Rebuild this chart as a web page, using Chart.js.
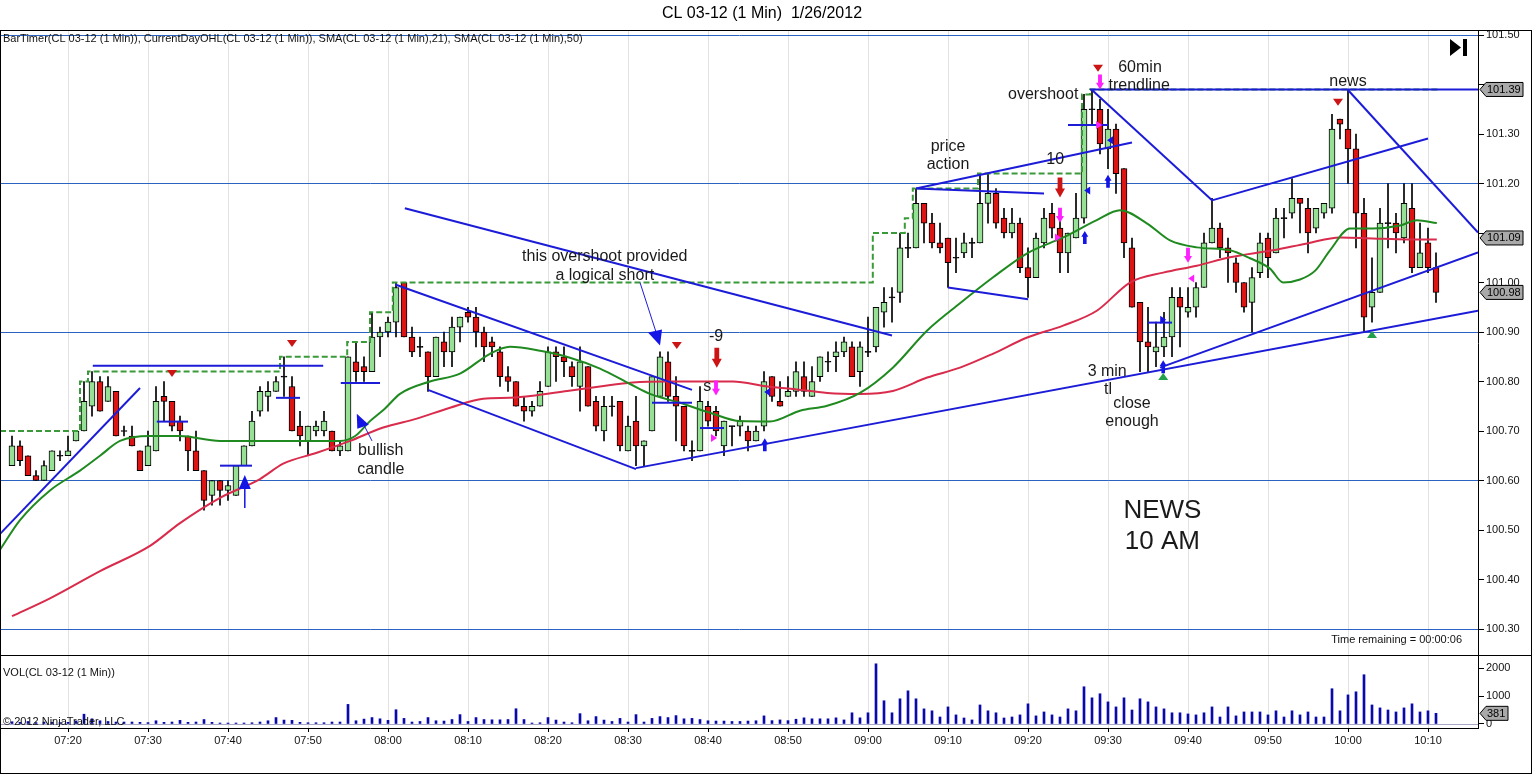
<!DOCTYPE html>
<html>
<head>
<meta charset="utf-8">
<title>CL 03-12 (1 Min) 1/26/2012</title>
<script src="https://cdn.jsdelivr.net/npm/chart.js@4.4.1/dist/chart.umd.min.js"></script>
<style>
  html, body { margin: 0; padding: 0; background: #fff; }
  #wrap { position: relative; width: 1532px; height: 774px; overflow: hidden; background: #fff; }
  #priceChart { position: absolute; left: 0; top: 0; }
  #volChart { position: absolute; left: 0; top: 655px; }
  .frame { position: absolute; left: 0; top: 30px; width: 1532px; height: 744px; border: 1px solid #000; box-sizing: border-box; pointer-events: none; }
  .sep { position: absolute; left: 0; top: 655px; width: 1532px; height: 1px; background: #000; pointer-events: none; }
</style>
</head>
<body>
<div id="wrap">
  <canvas id="priceChart" width="1532" height="655"></canvas>
  <canvas id="volChart" width="1532" height="119"></canvas>
  <div class="frame"></div>
  <div class="sep"></div>
</div>
<script>
// ---- data (1 minute bars from 07:13) ----
const firstBar = '07:13';
const timeLabels = ['07:20', '07:30', '07:40', '07:50', '08:00', '08:10', '08:20', '08:30', '08:40',
  '08:50', '09:00', '09:10', '09:20', '09:30', '09:40', '09:50', '10:00', '10:10'];

const opens = [
  100.63,100.67,100.65,100.61,100.60,100.62,100.65,100.65,100.68,100.70,
  100.75,100.80,100.76,100.78,100.70,100.69,100.66,100.63,100.66,100.77,
  100.76,100.72,100.69,100.66,100.62,100.57,100.60,100.58,100.57,100.63,
  100.67,100.74,100.77,100.78,100.81,100.79,100.71,100.68,100.70,100.70,
  100.70,100.66,100.66,100.84,100.83,100.82,100.89,100.90,100.92,101.00,
  100.89,100.87,100.86,100.81,100.88,100.86,100.91,100.94,100.93,100.90,
  100.88,100.86,100.81,100.80,100.75,100.74,100.75,100.79,100.86,100.85,
  100.83,100.79,100.83,100.76,100.70,100.75,100.76,100.66,100.72,100.67,
  100.70,100.77,100.84,100.77,100.75,100.66,100.66,100.75,100.74,100.67,
  100.71,100.71,100.70,100.68,100.71,100.81,100.76,100.77,100.78,100.81,
  100.77,100.81,100.84,100.85,100.86,100.87,100.82,100.86,100.87,100.94,
  100.97,100.98,101.07,101.07,101.16,101.12,101.08,101.09,101.05,101.06,
  101.08,101.08,101.16,101.18,101.13,101.10,101.12,101.03,101.01,101.08,
  101.14,101.11,101.06,101.09,101.13,101.35,101.35,101.27,101.31,101.23,
  101.07,100.96,100.88,100.86,100.87,100.89,100.97,100.94,100.95,100.99,
  101.08,101.11,101.07,101.04,101.00,100.96,101.02,101.09,101.06,101.13,
  101.14,101.17,101.15,101.11,101.14,101.15,101.33,101.31,101.27,101.14,
  100.95,100.98,101.12,101.12,101.09,101.15,101.03,101.08,101.03
];
const highs = [
  100.69,100.68,100.65,100.62,100.64,100.66,100.66,100.69,100.70,100.80,
  100.82,100.81,100.81,100.78,100.71,100.71,100.66,100.70,100.79,100.80,
  100.76,100.73,100.69,100.70,100.62,100.60,100.60,100.60,100.63,100.67,
  100.74,100.79,100.80,100.81,100.85,100.81,100.74,100.71,100.72,100.74,
  100.70,100.68,100.85,100.88,100.85,100.94,100.91,100.93,101.00,101.00,
  100.91,100.89,100.86,100.89,100.90,100.93,100.93,100.95,100.95,100.91,
  100.89,100.87,100.83,100.80,100.77,100.76,100.80,100.87,100.87,100.87,
  100.84,100.87,100.83,100.77,100.77,100.77,100.76,100.73,100.77,100.68,
  100.81,100.86,100.86,100.81,100.75,100.68,100.79,100.76,100.75,100.72,
  100.71,100.73,100.71,100.71,100.82,100.81,100.80,100.81,100.84,100.84,
  100.83,100.85,100.86,100.88,100.89,100.88,100.88,100.93,100.95,100.99,
  100.99,101.10,101.10,101.19,101.16,101.14,101.12,101.09,101.09,101.10,
  101.09,101.22,101.22,101.19,101.15,101.15,101.13,101.07,101.10,101.15,
  101.16,101.13,101.10,101.18,101.38,101.39,101.37,101.35,101.32,101.23,
  101.09,100.96,100.95,100.92,100.94,100.99,100.99,100.99,101.00,101.10,
  101.17,101.12,101.09,101.05,101.00,101.03,101.10,101.10,101.15,101.15,
  101.21,101.17,101.17,101.15,101.16,101.34,101.33,101.39,101.30,101.17,
  101.05,101.15,101.20,101.14,101.20,101.20,101.12,101.11,101.06
];
const lows = [
  100.63,100.63,100.61,100.60,100.60,100.62,100.64,100.65,100.68,100.70,
  100.73,100.74,100.76,100.69,100.69,100.67,100.62,100.63,100.66,100.72,
  100.70,100.68,100.62,100.62,100.54,100.55,100.55,100.56,100.57,100.63,
  100.67,100.73,100.74,100.78,100.77,100.70,100.67,100.65,100.69,100.69,
  100.66,100.65,100.66,100.80,100.80,100.82,100.85,100.89,100.89,100.89,
  100.85,100.85,100.78,100.81,100.83,100.83,100.88,100.92,100.87,100.84,
  100.85,100.79,100.78,100.75,100.72,100.73,100.75,100.79,100.80,100.81,
  100.79,100.74,100.75,100.70,100.68,100.73,100.66,100.66,100.63,100.63,
  100.70,100.77,100.76,100.68,100.66,100.64,100.66,100.71,100.69,100.65,
  100.67,100.69,100.66,100.68,100.70,100.76,100.75,100.77,100.77,100.77,
  100.77,100.80,100.82,100.82,100.85,100.81,100.79,100.85,100.86,100.91,
  100.92,100.96,101.05,101.07,101.08,101.07,101.06,100.99,101.02,101.05,
  101.05,101.08,101.12,101.11,101.09,101.09,101.02,100.97,101.01,101.07,
  101.09,101.02,101.02,101.09,101.12,101.32,101.26,101.23,101.18,101.05,
  100.95,100.82,100.82,100.83,100.85,100.85,100.87,100.93,100.93,100.99,
  101.08,101.05,101.00,100.98,100.94,100.90,101.01,101.01,101.06,101.09,
  101.13,101.10,101.06,101.10,101.13,101.14,101.29,101.20,101.07,100.90,
  100.92,100.98,101.07,101.06,101.08,101.02,101.03,101.02,100.96
];
const closes = [
  100.67,100.64,100.61,100.60,100.63,100.66,100.65,100.66,100.70,100.76,
  100.80,100.74,100.79,100.69,100.70,100.67,100.62,100.67,100.76,100.76,
  100.71,100.70,100.66,100.62,100.56,100.60,100.58,100.59,100.63,100.67,
  100.72,100.78,100.78,100.80,100.81,100.70,100.69,100.71,100.71,100.72,
  100.66,100.67,100.85,100.82,100.82,100.89,100.90,100.92,100.99,100.89,
  100.86,100.87,100.81,100.89,100.86,100.91,100.93,100.93,100.90,100.87,
  100.87,100.81,100.80,100.75,100.74,100.75,100.78,100.86,100.85,100.84,
  100.81,100.84,100.75,100.71,100.75,100.75,100.67,100.71,100.67,100.68,
  100.81,100.85,100.77,100.75,100.67,100.66,100.76,100.72,100.70,100.72,
  100.71,100.72,100.68,100.70,100.80,100.77,100.75,100.78,100.82,100.78,
  100.80,100.85,100.84,100.86,100.88,100.81,100.87,100.86,100.95,100.96,
  100.97,101.07,101.07,101.16,101.12,101.08,101.07,101.04,101.05,101.08,
  101.08,101.16,101.18,101.12,101.10,101.12,101.03,101.01,101.09,101.13,
  101.11,101.06,101.10,101.13,101.35,101.35,101.28,101.31,101.22,101.08,
  100.95,100.88,100.87,100.87,100.89,100.97,100.95,100.95,100.99,101.08,
  101.11,101.07,101.06,101.00,100.95,101.01,101.08,101.05,101.13,101.13,
  101.17,101.16,101.10,101.15,101.16,101.31,101.32,101.27,101.14,100.93,
  100.98,101.12,101.12,101.10,101.16,101.03,101.06,101.03,100.98
];
const volumes = [
  80,60,90,50,70,60,50,60,110,350,
  185,115,90,70,70,70,60,50,115,60,
  70,130,60,70,160,60,35,35,35,35,
  45,70,115,230,140,130,60,45,45,45,
  70,70,700,115,175,230,185,130,510,200,
  70,90,230,115,105,160,335,90,230,160,
  150,150,160,545,160,35,45,230,140,70,
  45,370,115,265,140,90,200,70,335,70,
  200,265,230,300,185,200,160,115,105,105,
  90,90,105,115,290,120,145,120,170,220,
  185,185,185,220,145,400,220,400,2150,830,
  400,900,1185,900,540,470,250,610,325,215,
  145,680,470,400,215,250,325,720,290,430,
  325,250,540,470,1330,935,1080,790,610,935,
  500,900,790,610,540,400,400,360,325,400,
  610,250,610,290,430,430,430,325,470,250,
  470,325,430,250,250,1260,470,1040,1150,1760,
  680,575,500,430,575,720,430,470,381
];

// SMA(21) and SMA(50) (bar position, price)
const sma21Bars = [-1.5,1,4.75,8.5,11,13.5,17.25,21,26,31,36,41,42.9,44.75,46.6,48.5,52.25,56,59.75,62.25,
  66,69.75,73.5,77.25,79.75,83.5,87.25,91,94.75,98.5,101.9,106,110.1,114.4,118.5,122.6,126.9,131.4,135.6,138.5,
  141.9,144.75,148.1,152.25,154.75,157.25,158.9,161,162.9,164.75,167.25,170.1,173.5,175.6,178.1];
const sma21Values = [100.46,100.52,100.58,100.62,100.65,100.68,100.69,100.69,100.68,100.68,100.68,100.68,100.69,100.72,100.745,100.775,100.80,100.816,100.856,100.87,
  100.862,100.848,100.826,100.795,100.775,100.757,100.737,100.72,100.719,100.741,100.751,100.777,100.828,100.903,100.958,101.01,101.059,101.091,101.126,101.146,
  101.119,101.085,101.071,101.065,101.049,101.028,101.00,101.006,101.024,101.065,101.109,101.109,101.115,101.126,101.12];
const sma50Bars = [0,4.75,11,17.25,21,26,31,33.9,38.1,42.25,46.4,50.6,54.75,58.9,62.25,65.1,69.4,73.5,77.6,81.9,
  90.1,94.4,97.6,101.9,106,110.1,114.4,118.5,122.6,126.9,131.4,135.6,139.75,143.9,148.1,152.25,157.6,161.9,166,170.1,
  174.4,178.1];
const sma50Values = [100.326,100.362,100.417,100.468,100.514,100.565,100.603,100.634,100.656,100.68,100.707,100.725,100.747,100.765,100.767,100.771,100.781,100.79,100.798,100.80,
  100.80,100.79,100.785,100.777,100.775,100.781,100.808,100.828,100.856,100.889,100.913,100.943,101.00,101.02,101.034,101.051,101.065,101.079,101.091,101.089,
  101.087,101.087];

// CurrentDayOHL running high (step line)
const dayHighBars = [-1.5, 8.5, 9.5, 33.5, 41.9, 44.75, 47.6, 107.6, 111.6, 112.6, 120.75, 133.75, 134.75, 178.5];
const dayHighValues = [100.70, 100.80, 100.82, 100.85, 100.88, 100.94, 101.00, 101.10, 101.13, 101.19, 101.22, 101.38, 101.39, 101.39];

const priceTicks = [100.30, 100.40, 100.50, 100.60, 100.70, 100.80, 100.90, 101.00, 101.10, 101.20, 101.30, 101.40, 101.50];
const blueGridPrices = ['100.30', '100.60', '100.90', '101.20', '101.50'];
const volumeTicks = [0, 1000, 2000];
const priceTags = [101.39, 101.09, 100.98];
const lastVolume = 381;

// ---- drawing objects on the price panel (bar position, price) ----
const trendLines = [
  [-1.5, 100.492, 16, 100.787],
  [10.1, 100.832, 38.9, 100.832],
  [18.1, 100.719, 22, 100.719],
  [26, 100.63, 30, 100.63],
  [33, 100.767, 36, 100.767],
  [41.1, 100.797, 46, 100.797],
  [49.1, 101.15, 110, 100.893],
  [47.9, 100.996, 85, 100.783],
  [52, 100.783, 78, 100.623],
  [78, 100.625, 183.25, 100.943],
  [143.5, 100.828, 183.25, 101.061],
  [113, 101.19, 140, 101.283],
  [113, 101.19, 129, 101.18],
  [117, 100.99, 127, 100.966],
  [135, 101.389, 150, 101.166],
  [150, 101.166, 177, 101.291],
  [167, 101.389, 183.25, 101.101],
  [134.75, 101.39, 183.25, 101.39],
  [132, 101.318, 137, 101.318],
  [142, 100.919, 145, 100.919],
  [86, 100.706, 89, 100.706],
  [80, 100.757, 85, 100.757]
];
const pointerLines = [
  [78.5, 101.00, 80.6, 100.895],
  [43.9, 100.715, 45, 100.68]
];
const markers = [
  ['swingHigh', 20, 100.816], ['swingHigh', 35, 100.877], ['swingHigh', 83.1, 100.873],
  ['swingHigh', 135.75, 101.433], ['swingHigh', 165.75, 101.364],
  ['swingLow', 143.9, 100.81], ['swingLow', 170, 100.895],
  ['redDown', 88.1, 100.848], ['redDown', 131, 101.192],
  ['pinkDown', 88, 100.787], ['pinkDown', 131, 101.136], ['pinkDown', 136, 101.405], ['pinkDown', 147, 101.055],
  ['blueUp', 94.1, 100.672], ['blueUp', 143.9, 100.83], ['blueUp', 134.1, 101.091], ['blueUp', 137, 101.2045],
  ['pinkRight', 87.75, 100.686], ['pinkRight', 130.75, 101.091], ['pinkRight', 135.9, 101.318],
  ['pinkLeft', 147.4, 101.008],
  ['blueLeft', 94.4, 100.779], ['blueLeft', 134.4, 101.186], ['blueLeft', 137.25, 101.2875],
  ['blueRight', 143.9, 100.925],
  ['bigTri', 81, 100.8725], ['bullTri', 43.1, 100.735], ['upStem', 29.1, 100.583]
];
const notes = [
  ['this overshoot provided', 74.1, 101.053, 16], ['a logical short', 74.1, 101.014, 16],
  ['-9', 88, 100.891, 16], ['s', 86.9, 100.79, 16],
  ['bullish', 46.1, 100.66, 16], ['candle', 46.1, 100.622, 16],
  ['price', 117, 101.275, 16], ['action', 117, 101.239, 16],
  ['10', 130.4, 101.249, 16], ['overshoot', 128.9, 101.379, 16],
  ['60min', 141, 101.435, 16], ['trendline', 140.9, 101.397, 16],
  ['news', 167, 101.405, 16],
  ['3 min', 136.9, 100.82, 16], ['tl', 137, 100.783, 16],
  ['close', 140, 100.755, 16], ['enough', 140, 100.719, 16],
  ['NEWS', 143.8, 100.538, 26], ['10 AM', 143.8, 100.476, 26]
];

const FONT = '"Liberation Sans", Arial, sans-serif';
const BLUE = '#1c1cd8';
const PINK = '#ff20ff';

function minutes(t) {
  const [h, m] = t.split(':').map(Number);
  return h * 60 + m;
}
const tickBars = timeLabels.map(t => minutes(t) - minutes(firstBar));

// axis labels sitting under a price tag are not shown, as on the original
function hiddenByTag(v) {
  return priceTags.some(p => Math.abs(p - v) < 0.015);
}

function arrowDown(ctx, x, y, w, h, color) {
  const top = y - h / 2, bot = y + h / 2, neck = bot - h * 0.45, s = w * 0.24;
  ctx.fillStyle = color;
  ctx.beginPath();
  ctx.moveTo(x - s, top); ctx.lineTo(x + s, top); ctx.lineTo(x + s, neck);
  ctx.lineTo(x + w / 2, neck); ctx.lineTo(x, bot); ctx.lineTo(x - w / 2, neck);
  ctx.lineTo(x - s, neck); ctx.closePath(); ctx.fill();
}
function arrowUp(ctx, x, y, w, h, color) {
  const top = y - h / 2, bot = y + h / 2, neck = top + h * 0.45, s = w * 0.26;
  ctx.fillStyle = color;
  ctx.beginPath();
  ctx.moveTo(x, top); ctx.lineTo(x + w / 2, neck); ctx.lineTo(x + s, neck);
  ctx.lineTo(x + s, bot); ctx.lineTo(x - s, bot); ctx.lineTo(x - s, neck);
  ctx.lineTo(x - w / 2, neck); ctx.closePath(); ctx.fill();
}
function poly(ctx, pts, color) {
  ctx.fillStyle = color;
  ctx.beginPath();
  pts.forEach(([a, b], i) => i ? ctx.lineTo(a, b) : ctx.moveTo(a, b));
  ctx.closePath(); ctx.fill();
}
function drawMarker(ctx, kind, x, y) {
  switch (kind) {
    case 'swingHigh': poly(ctx, [[x - 5, y - 3.5], [x + 5, y - 3.5], [x, y + 3.5]], '#cc1414'); break;
    case 'swingLow': poly(ctx, [[x - 5, y + 3.5], [x + 5, y + 3.5], [x, y - 3.5]], '#22a04a'); break;
    case 'redDown': arrowDown(ctx, x, y, 10, 20, '#cc1414'); break;
    case 'pinkDown': arrowDown(ctx, x, y, 8, 15, PINK); break;
    case 'blueUp': arrowUp(ctx, x, y, 7, 13, '#1414e6'); break;
    case 'pinkRight': poly(ctx, [[x - 3, y - 4], [x + 3, y], [x - 3, y + 4]], PINK); break;
    case 'pinkLeft': poly(ctx, [[x + 3, y - 4], [x - 3, y], [x + 3, y + 4]], PINK); break;
    case 'blueLeft': poly(ctx, [[x + 3, y - 4], [x - 3, y], [x + 3, y + 4]], '#1414e6'); break;
    case 'blueRight': poly(ctx, [[x - 3, y - 4], [x + 3, y], [x - 3, y + 4]], '#1414e6'); break;
    case 'bigTri': poly(ctx, [[x - 12, y - 13], [x + 2, y - 16], [x, y]], '#1414e6'); break;
    case 'bullTri': poly(ctx, [[x, y], [x + 0.5, y + 15], [x + 12, y + 11]], '#1414e6'); break;
    case 'upStem':
      poly(ctx, [[x - 6, y], [x + 6, y], [x, y - 14]], '#1414e6');
      ctx.strokeStyle = '#1414e6'; ctx.lineWidth = 1.5;
      ctx.beginPath(); ctx.moveTo(x, y); ctx.lineTo(x, y + 19); ctx.stroke();
      break;
  }
}
function tag(ctx, xl, yc, text, w) {
  ctx.beginPath();
  ctx.moveTo(xl, yc); ctx.lineTo(xl + 6, yc - 7); ctx.lineTo(xl + w, yc - 7);
  ctx.lineTo(xl + w, yc + 7); ctx.lineTo(xl + 6, yc + 7); ctx.closePath();
  ctx.fillStyle = '#a9a9a9'; ctx.fill();
  ctx.strokeStyle = '#000'; ctx.lineWidth = 1; ctx.stroke();
  ctx.fillStyle = '#000'; ctx.font = '11px ' + FONT;
  ctx.textAlign = 'left'; ctx.textBaseline = 'middle';
  ctx.fillText(text, xl + 7, yc + 0.5);
}

const pricePlugin = {
  id: 'priceDrawings',
  afterDatasetsDraw(chart) {
    const { ctx, chartArea: a, scales: { x, y } } = chart;
    const px = k => x.getPixelForValue(k), py = p => y.getPixelForValue(p);
    ctx.save();
    ctx.beginPath(); ctx.rect(a.left, a.top, a.right - a.left, a.bottom - a.top); ctx.clip();
    ctx.strokeStyle = BLUE; ctx.lineWidth = 2;
    trendLines.forEach(([k1, p1, k2, p2]) => {
      ctx.beginPath(); ctx.moveTo(px(k1), py(p1)); ctx.lineTo(px(k2), py(p2)); ctx.stroke();
    });
    ctx.lineWidth = 1;
    pointerLines.forEach(([k1, p1, k2, p2]) => {
      ctx.beginPath(); ctx.moveTo(px(k1), py(p1)); ctx.lineTo(px(k2), py(p2)); ctx.stroke();
    });
    markers.forEach(([kind, k, p]) => drawMarker(ctx, kind, px(k), py(p)));
    ctx.fillStyle = '#1a1a1a'; ctx.textAlign = 'center'; ctx.textBaseline = 'middle';
    notes.forEach(([t, k, p, size]) => {
      ctx.font = size + 'px ' + FONT;
      ctx.fillText(t, px(k), py(p));
    });
    ctx.font = '11px ' + FONT; ctx.textAlign = 'left'; ctx.fillStyle = '#111';
    ctx.fillText('BarTimer(CL 03-12 (1 Min)), CurrentDayOHL(CL 03-12 (1 Min)), SMA(CL 03-12 (1 Min),21), SMA(CL 03-12 (1 Min),50)', a.left + 2, a.top + 8);
    ctx.textAlign = 'right';
    ctx.fillText('Time remaining = 00:00:06', a.right - 16, a.bottom - 15);
    // end-of-chart button
    poly(ctx, [[a.right - 28, a.top + 8], [a.right - 28, a.top + 25], [a.right - 17, a.top + 16.5]], '#000');
    ctx.fillStyle = '#000'; ctx.fillRect(a.right - 15, a.top + 8, 4, 17);
    ctx.restore();
  },
  afterDraw(chart) {
    const { ctx, chartArea: a, scales: { y } } = chart;
    ctx.save();
    ctx.fillStyle = '#000'; ctx.font = '16px ' + FONT;
    ctx.textAlign = 'center'; ctx.textBaseline = 'middle';
    ctx.fillText('CL 03-12 (1 Min)  1/26/2012', 762, 14);
    priceTags.forEach(p => tag(ctx, a.right + 2, y.getPixelForValue(p), p.toFixed(2), 43));
    ctx.restore();
  }
};

const volPlugin = {
  id: 'volDrawings',
  beforeDatasetsDraw(chart) {
    const { ctx, chartArea: a, scales: { y } } = chart;
    ctx.save();
    ctx.strokeStyle = '#a8a8c8'; ctx.lineWidth = 1;
    const y0 = Math.round(y.getPixelForValue(0)) + 0.5;
    ctx.beginPath(); ctx.moveTo(a.left, y0); ctx.lineTo(a.right, y0); ctx.stroke();
    ctx.restore();
  },
  afterDatasetsDraw(chart) {
    const { ctx, chartArea: a } = chart;
    ctx.save();
    ctx.fillStyle = '#111'; ctx.font = '11px ' + FONT;
    ctx.textAlign = 'left'; ctx.textBaseline = 'middle';
    ctx.fillText('VOL(CL 03-12 (1 Min))', a.left + 2, a.top + 17);
    ctx.fillText('\u00a9 2012 NinjaTrader, LLC', a.left + 2, a.top + 66);
    ctx.restore();
  },
  afterDraw(chart) {
    const { ctx, chartArea: a, scales: { y } } = chart;
    ctx.save();
    tag(ctx, a.right + 2, y.getPixelForValue(lastVolume), String(lastVolume), 28);
    ctx.restore();
  }
};

Chart.defaults.color = '#111';
Chart.defaults.font.family = FONT;

const wickData = opens.map((o, i) => ({ x: i, y: [lows[i], highs[i]] }));
const bodyData = opens.map((o, i) => ({
  x: i,
  y: o === closes[i] ? [o - 0.001, o + 0.001] : [o, closes[i]]
}));
const bodyColor = c => {
  const i = c.dataIndex;
  if (closes[i] > opens[i]) return '#96e096';
  if (closes[i] < opens[i]) return '#dd1414';
  return '#000';
};

new Chart(document.getElementById('priceChart'), {
  type: 'bar',
  data: {
    datasets: [
      { type: 'line', label: 'CurrentDayOHL', data: dayHighBars.map((k, i) => ({ x: k, y: dayHighValues[i] })),
        borderColor: '#3a9a3a', borderWidth: 2, borderDash: [6, 3], stepped: true, pointRadius: 0, order: 1 },
      { type: 'line', label: 'SMA 21', data: sma21Bars.map((k, i) => ({ x: k, y: sma21Values[i] })),
        borderColor: '#1f8a1f', borderWidth: 2, pointRadius: 0, cubicInterpolationMode: 'monotone', order: 2 },
      { type: 'line', label: 'SMA 50', data: sma50Bars.map((k, i) => ({ x: k, y: sma50Values[i] })),
        borderColor: '#d92b4b', borderWidth: 2, pointRadius: 0, cubicInterpolationMode: 'monotone', order: 2 },
      { label: 'body', data: bodyData, backgroundColor: bodyColor, borderColor: '#000', borderWidth: 1,
        borderSkipped: false, barThickness: 6, grouped: false, order: 3 },
      { label: 'wick', data: wickData, backgroundColor: '#000', borderWidth: 0,
        barThickness: 1, grouped: false, order: 4 }
    ]
  },
  options: {
    responsive: false, animation: false, devicePixelRatio: 1, events: [],
    layout: { padding: { top: 31, left: 1, right: 0, bottom: 0 } },
    plugins: { legend: { display: false }, tooltip: { enabled: false } },
    scales: {
      x: {
        type: 'linear', min: -1.375, max: 183.25, offset: false,
        grid: { color: '#e2e2e2', drawTicks: false, offset: false },
        border: { display: false },
        ticks: { display: false },
        afterBuildTicks: s => { s.ticks = tickBars.map(v => ({ value: v })); },
        afterFit: s => { s.height = 0; }
      },
      y: {
        position: 'right', min: 100.2475, max: 101.5081,
        grid: {
          color: c => (c.tick && blueGridPrices.includes(c.tick.value.toFixed(2))) ? '#2b64c0' : 'rgba(0,0,0,0)',
          drawTicks: true, tickLength: 6, tickColor: '#000'
        },
        border: { display: true, color: '#000' },
        ticks: { font: { size: 11 }, color: '#111', padding: 2,
          callback: v => hiddenByTag(v) ? '' : v.toFixed(2) },
        afterBuildTicks: s => { s.ticks = priceTicks.map(v => ({ value: v })); },
        afterFit: s => { s.width = 54; s.paddingTop = 0; s.paddingBottom = 0; }
      }
    }
  },
  plugins: [pricePlugin]
});

new Chart(document.getElementById('volChart'), {
  type: 'bar',
  data: {
    datasets: [
      { label: 'VOL', data: volumes.map((v, i) => ({ x: i, y: v })), backgroundColor: '#0a0aa8',
        borderWidth: 0, barThickness: 2, grouped: false }
    ]
  },
  options: {
    responsive: false, animation: false, devicePixelRatio: 1, events: [],
    layout: { padding: { top: 1, left: 1, right: 0, bottom: 0 } },
    plugins: { legend: { display: false }, tooltip: { enabled: false } },
    scales: {
      x: {
        type: 'linear', min: -1.375, max: 183.25, offset: false,
        grid: { color: '#e2e2e2', drawTicks: true, tickLength: 4, tickColor: '#000', offset: false },
        border: { display: true, color: '#000' },
        ticks: { font: { size: 11 }, color: '#111', padding: 2, maxRotation: 0, autoSkip: false,
          callback: v => timeLabels[tickBars.indexOf(v)] },
        afterBuildTicks: s => { s.ticks = tickBars.map(v => ({ value: v })); },
        afterFit: s => { s.height = 46; s.paddingLeft = 0; s.paddingRight = 0; }
      },
      y: {
        position: 'right', min: -143, max: 2429,
        grid: { drawOnChartArea: false, drawTicks: true, tickLength: 6, tickColor: '#000' },
        border: { display: true, color: '#000' },
        ticks: { font: { size: 11 }, color: '#111', padding: 2, callback: v => String(v) },
        afterBuildTicks: s => { s.ticks = volumeTicks.map(v => ({ value: v })); },
        afterFit: s => { s.width = 54; s.paddingTop = 0; s.paddingBottom = 0; }
      }
    }
  },
  plugins: [volPlugin]
});
</script>
</body>
</html>
